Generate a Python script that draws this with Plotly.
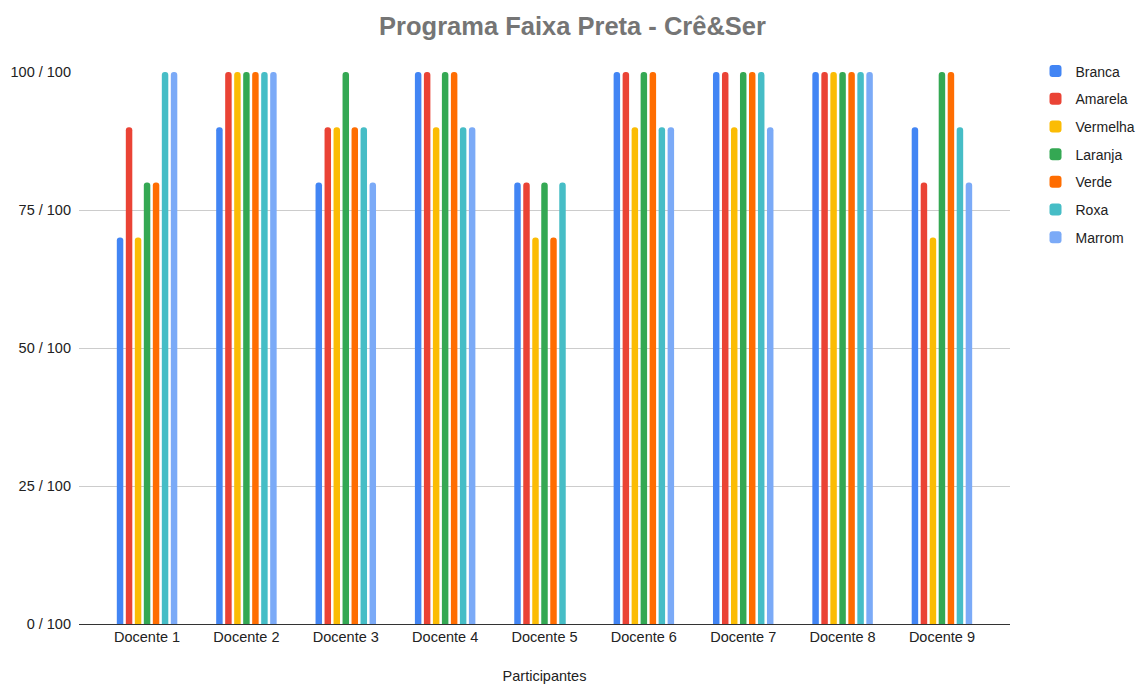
import plotly.graph_objects as go

categories = ["Docente 1", "Docente 2", "Docente 3", "Docente 4", "Docente 5",
              "Docente 6", "Docente 7", "Docente 8", "Docente 9"]
branca   = [70, 90, 80, 100, 80, 100, 100, 100, 90]
amarela  = [90, 100, 90, 100, 80, 100, 100, 100, 80]
vermelha = [70, 100, 90, 90, 70, 90, 90, 100, 70]
laranja  = [80, 100, 100, 100, 80, 100, 100, 100, 100]
verde    = [80, 100, 90, 100, 70, 100, 100, 100, 100]
roxa     = [100, 100, 90, 90, 80, 90, 100, 100, 90]
marrom   = [100, 100, 80, 90, None, 90, 90, 100, 80]

series = [("Branca", branca, "#4285F4"), ("Amarela", amarela, "#EA4335"),
          ("Vermelha", vermelha, "#FBBC04"), ("Laranja", laranja, "#34A853"),
          ("Verde", verde, "#FF6D01"), ("Roxa", roxa, "#46BDC6"),
          ("Marrom", marrom, "#7BAAF7")]

tick_vals = [0, 25, 50, 75, 100]
tick_text = ["0 / 100", "25 / 100", "50 / 100", "75 / 100", "100 / 100"]

fig = go.Figure()
for name, vals, color in series:
    fig.add_trace(go.Bar(x=categories, y=vals, name=name, marker_color=color,
                         marker_line_width=0, legendgroup=name))

fig.update_layout(
    width=1137, height=678,
    paper_bgcolor="white", plot_bgcolor="white",
    font=dict(family="Arial, Liberation Sans", size=14.5, color="#222"),
    title=dict(text="<b>Programa Faixa Preta - Crê&Ser</b>", x=0.4965, xanchor="center",
               y=0.9735, yanchor="middle", font=dict(size=25.5, color="#757575")),
    margin=dict(l=71, r=135, t=64, b=62, autoexpand=False),
    barmode="group", bargap=0.366, bargroupgap=0.28, barcornerradius=3,
    legend=dict(x=1.0274, y=1.03, xanchor="left", yanchor="top",
                font=dict(size=14, color="#222"), tracegroupgap=6.5),
    xaxis=dict(title=dict(text="Participantes", font=dict(size=14.5), standoff=26),
               range=[-0.685, 8.685],
               showline=True, linecolor="#333", linewidth=1, ticks=""),
    yaxis=dict(range=[0, 100], tickvals=tick_vals, ticktext=tick_text,
               showgrid=True, gridcolor="#cccccc", zeroline=False, ticks="",
               ticklabelstandoff=7),
)
fig.write_html("out.html")
